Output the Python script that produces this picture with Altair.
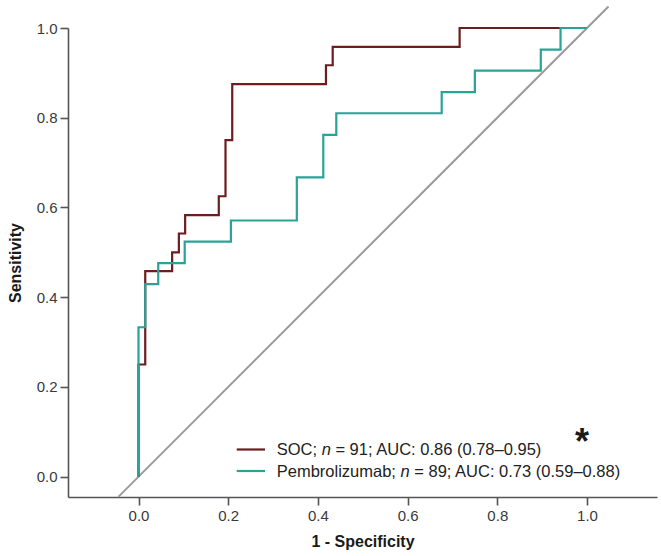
import altair as alt
import pandas as pd

# ROC curve vertices (1 - specificity, sensitivity) in drawing order;
# each point marks where the curve steps up.
soc_fpr = [0.0, 0.0, 0.015, 0.075, 0.090, 0.104, 0.179, 0.194, 0.209, 0.418, 0.433, 0.716, 1.0]
soc_tpr = [0.0, 0.250, 0.458, 0.500, 0.542, 0.583, 0.625, 0.750, 0.875, 0.917, 0.958, 1.0, 1.0]
pem_fpr = [0.0, 0.0, 0.015, 0.044, 0.103, 0.206, 0.353, 0.412, 0.441, 0.676, 0.750, 0.897, 0.941, 1.0]
pem_tpr = [0.0, 0.333, 0.429, 0.476, 0.524, 0.571, 0.667, 0.762, 0.810, 0.857, 0.905, 0.952, 1.0, 1.0]

# Reference (chance) line endpoints
diag = [-0.045, 1.048]

series = ["SOC", "Pembrolizumab"]
colors = ["#6b1d1f", "#2aa397"]
n_values = [91, 89]
auc_text = ["AUC: 0.86 (0.78\u20130.95)", "AUC: 0.73 (0.59\u20130.88)"]
ticks = [0.0, 0.2, 0.4, 0.6, 0.8, 1.0]

FONT = "Liberation Sans"
LEG_SIZE = 16.5
W, H = 589, 469

# Arial/Liberation Sans advance widths (em) for the legend pieces
ADV = {"S": .667, "O": .778, "C": .722, ";": .278, " ": .278, "P": .667, "e": .556,
       "m": .833, "b": .556, "r": .333, "o": .556, "l": .222, "i": .222, "z": .5,
       "u": .556, "a": .556, "n": .556}


def text_width(s, size):
    return sum(ADV.get(c, .556) for c in s) * size


xs = alt.Scale(domain=[-0.1572, 1.1561], nice=False, zero=False)
ys = alt.Scale(domain=[-0.0453, 1.0], nice=False, zero=False)

x_axis = alt.Axis(values=ticks, format=".1f", title="1 - Specificity", grid=False,
                  titlePadding=10)
y_axis = alt.Axis(values=ticks, format=".1f", title="Sensitivity", grid=False,
                  titlePadding=13)


def curve(fpr, tpr, color):
    df = pd.DataFrame({"fpr": fpr, "tpr": tpr, "k": range(len(fpr))})
    return alt.Chart(df).mark_line(
        interpolate="step-after", color=color, strokeWidth=2.2
    ).encode(
        x=alt.X("fpr:Q", scale=xs, axis=x_axis),
        y=alt.Y("tpr:Q", scale=ys, axis=y_axis),
        order="k:Q",
    )


diag_layer = alt.Chart(pd.DataFrame({"fpr": diag, "tpr": diag})).mark_line(
    color="#9a9a9a", strokeWidth=2
).encode(
    x=alt.X("fpr:Q", scale=xs, axis=x_axis),
    y=alt.Y("tpr:Q", scale=ys, axis=y_axis),
)

layers = [diag_layer,
          curve(soc_fpr, soc_tpr, colors[0]),
          curve(pem_fpr, pem_tpr, colors[1])]

# Legend: line swatches and mixed-style labels
row_y = [421.5, 443.0]
swatch_x0, swatch_x1 = 168.7, 197.0
text_x = 208.7
space = text_width(" ", LEG_SIZE)
for name, color, n, auc, yy in zip(series, colors, n_values, auc_text, row_y):
    one = pd.DataFrame({"v": [0]})
    layers.append(alt.Chart(one).mark_rule(color=color, strokeWidth=2.2).encode(
        x=alt.value(swatch_x0), x2=alt.value(swatch_x1), y=alt.value(yy)))
    prefix = f"{name};"
    nx = text_x + text_width(prefix, LEG_SIZE) + space
    suffix = f"= {n}; {auc}"
    sx = nx + text_width("n", LEG_SIZE) + space
    for txt, px, style in [(prefix, text_x, "normal"), ("n", nx, "italic"),
                           (suffix, sx, "normal")]:
        layers.append(alt.Chart(one).mark_text(
            text=txt, align="left", baseline="middle", font=FONT,
            fontSize=LEG_SIZE, fontStyle=style, color="#222222"
        ).encode(x=alt.value(px), y=alt.value(yy + 0.5)))

# Significance marker
layers.append(alt.Chart(pd.DataFrame({"v": [0]})).mark_text(
    text="*", align="center", baseline="alphabetic", font=FONT,
    fontSize=36, fontWeight="bold", color="#1a1a1a"
).encode(x=alt.value(514), y=alt.value(426)))

chart = alt.layer(*layers).properties(
    width=W, height=H,
    background="white",
    autosize=alt.AutoSizeParams(type="none"),
    padding={"left": 68, "top": 28, "right": 4, "bottom": 59},
).configure_view(stroke=None).configure_axis(
    grid=False,
    labelFont=FONT, labelFontSize=15, labelColor="#3a3a3a", labelPadding=3,
    titleFont=FONT, titleFontSize=16, titleFontWeight="bold", titleColor="#1a1a1a",
    domainColor="#555555", domainWidth=1.6,
    tickColor="#555555", tickWidth=1.6, tickSize=8,
)

chart.save("out.html", embed_options={"renderer": "svg", "actions": False})
